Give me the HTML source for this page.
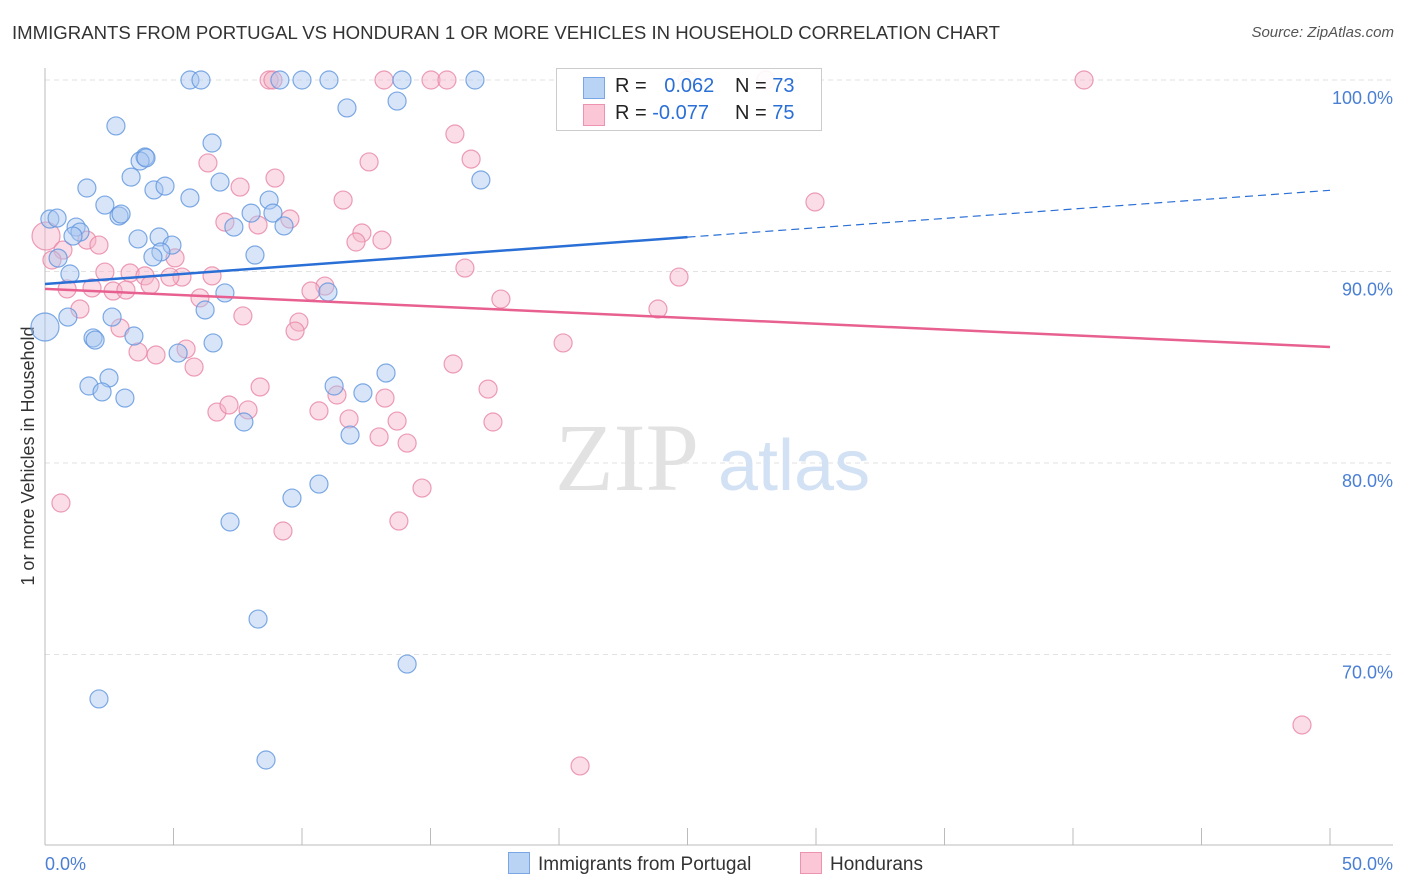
<!DOCTYPE html>
<html><head><meta charset="utf-8">
<style>
body{margin:0;background:#fff;font-family:"Liberation Sans",sans-serif;}
#wrap{position:relative;width:1406px;height:892px;overflow:hidden;}
.t{position:absolute;white-space:nowrap;}
</style></head>
<body>
<div id="wrap">
<div class="t" style="left:12px;top:22px;font-size:18.6px;color:#333;">IMMIGRANTS FROM PORTUGAL VS HONDURAN 1 OR MORE VEHICLES IN HOUSEHOLD CORRELATION CHART</div>
<div class="t" style="right:12px;top:24px;font-size:15px;color:#555;font-style:italic;">Source: ZipAtlas.com</div>
<svg id="svg" width="1406" height="892" style="position:absolute;left:0;top:0;"></svg>
</div>
<script>
const yTicks=[100,90,80,70];
const yTickLabels=["100.0%","90.0%","80.0%","70.0%"];
const xTickLabels=["0.0%","50.0%"];
const blueX=[5.64,6.07,9.14,10.0,11.05,13.89,16.73,11.75,13.70,2.76,6.50,3.89,3.70,3.93,3.35,6.81,16.96,1.63,4.24,4.67,5.64,8.72,2.33,0.19,0.47,2.88,2.96,8.02,8.87,7.35,9.30,1.21,1.36,1.09,3.62,4.44,4.94,4.51,4.20,8.17,0.51,0.97,7.00,11.01,6.23,0.89,2.61,1.87,1.95,3.46,6.54,5.18,2.49,1.71,2.22,3.11,11.25,12.37,13.27,7.74,11.87,9.61,10.66,7.20,8.29,14.09,2.10,8.60,0];
const blueY=[100,100,100,100,100,100,100,98.54,98.90,97.60,96.71,95.98,95.77,95.93,94.93,94.67,94.78,94.36,94.26,94.46,93.84,93.73,93.47,92.74,92.79,92.90,93.00,93.05,93.05,92.32,92.38,92.32,92.06,91.85,91.70,91.80,91.38,91.02,90.76,90.86,90.70,89.87,88.88,88.93,87.99,87.62,87.62,86.53,86.42,86.63,86.27,85.74,84.44,84.02,83.71,83.39,84.02,83.66,84.70,82.14,81.46,78.17,78.90,76.92,71.85,69.50,67.68,64.49,87.10];
const blueBig=[68];
const pinkX=[8.72,8.87,13.19,15.02,15.64,24.98,28.05,40.43,15.95,6.34,12.61,16.58,8.95,7.59,11.60,29.96,7.00,8.29,9.53,12.33,12.10,13.11,0.04,1.63,2.10,0.70,5.06,0.27,2.33,3.31,3.89,5.33,6.50,4.86,4.09,0.86,1.83,2.65,3.15,10.89,10.35,16.34,24.67,17.74,6.03,1.36,23.85,7.70,9.88,9.73,2.92,3.62,4.32,5.49,5.80,20.16,15.88,17.24,8.37,11.36,13.23,6.69,7.16,7.90,10.66,11.83,13.70,13.00,14.09,17.43,14.67,0.62,13.77,9.26,20.82,48.91];
const pinkY=[100,100,100,100,100,100,100,100,97.18,95.67,95.72,95.87,94.88,94.41,93.73,93.63,92.58,92.43,92.74,92.01,91.54,91.64,91.85,91.64,91.38,91.12,90.71,90.60,89.97,89.92,89.77,89.71,89.77,89.71,89.30,89.09,89.14,88.98,89.03,89.24,88.98,90.18,89.71,88.56,88.62,88.04,88.04,87.68,87.36,86.89,87.05,85.80,85.64,85.95,85.01,86.27,85.17,83.86,83.97,83.55,83.39,82.66,83.03,82.77,82.72,82.30,82.19,81.36,81.04,82.14,78.69,77.91,76.97,76.45,64.18,66.32];
const pinkBig=[22];
const blueLine=[89.35,0.0978]; // intercept, slope per %
const pinkLine=[89.09,-0.0606];
const blueSolidEnd=25;

const X=v=>45+v/50*1285;
const Y=v=>80+(100-v)*19.15;
const svg=document.getElementById('svg');
const NS='http://www.w3.org/2000/svg';
function mk(tag,attrs,name){const e=document.createElementNS(NS,tag);for(const k in attrs)e.setAttribute(k,attrs[k]);


svg.appendChild(e);return e;}
yTicks.forEach((t,i)=>{
 mk('line',{x1:45,x2:1393,y1:Y(t),y2:Y(t),stroke:'#e2e2e2','stroke-dasharray':'5,4'},'y-gridline');
 const tx=mk('text',{x:1393,y:Y(t)+24,'text-anchor':'end','font-size':18,fill:'#4a7fd4','font-family':'Liberation Sans'},'y-tick-label');tx.textContent=yTickLabels[i];
});
mk('line',{x1:45,x2:45,y1:68,y2:845,stroke:'#bbb'},'y-axis');
mk('line',{x1:45,x2:1393,y1:845,y2:845,stroke:'#bbb'},'x-axis');
for(let i=0;i<=10;i++){mk('line',{x1:X(i*5),x2:X(i*5),y1:828,y2:845,stroke:'#bbb'},'x-tick');}
let t=mk('text',{x:45,y:870,'font-size':18,fill:'#4a7fd4','font-family':'Liberation Sans'},'x-tick-label');t.textContent=xTickLabels[0];
t=mk('text',{x:1393,y:870,'text-anchor':'end','font-size':18,fill:'#4a7fd4','font-family':'Liberation Sans'},'x-tick-label');t.textContent=xTickLabels[1];
t=mk('text',{x:34,y:456,'text-anchor':'middle','font-size':18,fill:'#333',transform:'rotate(-90 34 456)','font-family':'Liberation Sans'},'y-axis-title');t.textContent='1 or more Vehicles in Household';
t=mk('text',{x:555,y:490,'font-size':96,fill:'#e2e2e2','font-family':'Liberation Serif'},'watermark-zip');t.textContent='ZIP';
t=mk('text',{x:718,y:490,'font-size':72,fill:'#d3e1f4','font-family':'Liberation Sans'},'watermark-atlas');t.textContent='atlas';
function pts(xs,ys,big,fill,stroke,name){xs.forEach((x,i)=>{const r=big.includes(i)?14:9;
 mk('circle',{cx:X(x),cy:Y(ys[i]),r:r,fill:fill,'fill-opacity':0.45,stroke:stroke,'stroke-opacity':0.8,'stroke-width':1.2},name);});}
pts(pinkX,pinkY,pinkBig,'#f5b3c8','#e884a5','honduran-point');
pts(blueX,blueY,blueBig,'#a8c6f0','#5e95de','portugal-point');
const bl=x=>blueLine[0]+blueLine[1]*x, pl=x=>pinkLine[0]+pinkLine[1]*x;
mk('line',{x1:X(0),y1:Y(bl(0)),x2:X(blueSolidEnd),y2:Y(bl(blueSolidEnd)),stroke:'#2a6fd6','stroke-width':2.5},'portugal-trend-line');
mk('line',{x1:X(blueSolidEnd),y1:Y(bl(blueSolidEnd)),x2:X(50),y2:Y(bl(50)),stroke:'#2a6fd6','stroke-width':1.2,'stroke-dasharray':'8,5'},'portugal-trend-extension');
mk('line',{x1:X(0),y1:Y(pl(0)),x2:X(50),y2:Y(pl(50)),stroke:'#e8608f','stroke-width':2.5},'honduran-trend-line');
</script>
<div class="t" style="left:556px;top:68px;width:264px;height:61px;border:1px solid #ccc;background:rgba(255,255,255,0.9);font-size:20px;">
 <div style="position:absolute;left:26px;top:8px;width:20px;height:20px;background:#b9d3f5;border:1px solid #7aa6e6;"></div>
 <div class="t" style="left:58px;top:6px;color:#222;">R = <span style="color:#2a6fd6;margin-left:12px;">0.062</span></div>
 <div class="t" style="left:178px;top:6px;color:#222;">N = <span style="color:#2a6fd6;">73</span></div>
 <div style="position:absolute;left:26px;top:35px;width:20px;height:20px;background:#fbc6d6;border:1px solid #eb93b1;"></div>
 <div class="t" style="left:58px;top:33px;color:#222;">R = <span style="color:#2a6fd6;">-0.077</span></div>
 <div class="t" style="left:178px;top:33px;color:#222;">N = <span style="color:#2a6fd6;">75</span></div>
</div>
<div class="t" style="left:508px;top:852px;font-size:19px;color:#333;">
 <span style="display:inline-block;width:20px;height:20px;background:#b9d3f5;border:1px solid #7aa6e6;vertical-align:-4px;margin-right:8px;"></span>Immigrants from Portugal</div>
<div class="t" style="left:800px;top:852px;font-size:19px;color:#333;">
 <span style="display:inline-block;width:20px;height:20px;background:#fbc6d6;border:1px solid #eb93b1;vertical-align:-4px;margin-right:8px;"></span>Hondurans</div>
</body></html>
